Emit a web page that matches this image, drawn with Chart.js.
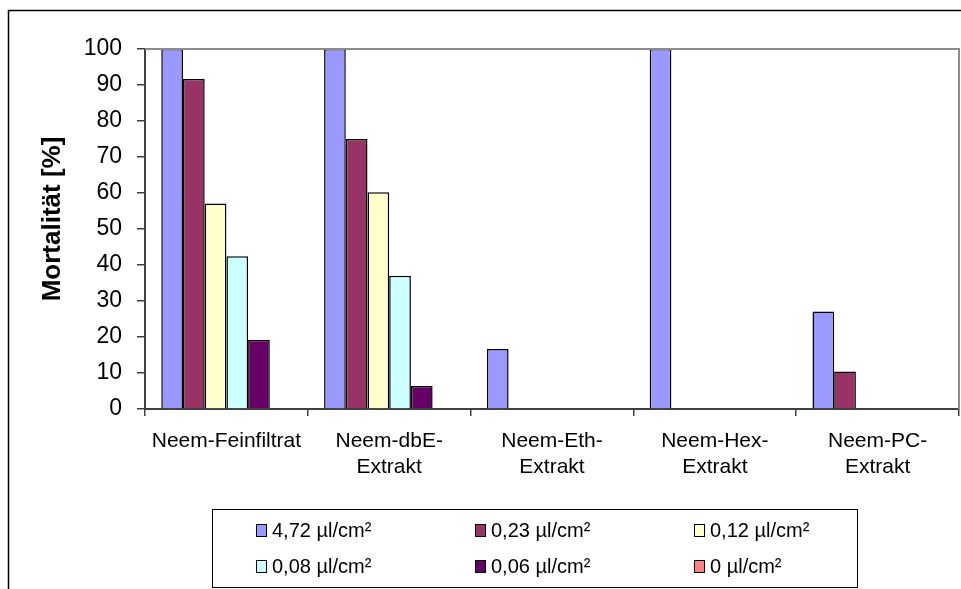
<!DOCTYPE html>
<html>
<head>
<meta charset="utf-8">
<script src="https://cdn.jsdelivr.net/npm/chart.js@4/dist/chart.umd.min.js"></script>
<style>
  html, body { margin: 0; padding: 0; background: #ffffff; }
  canvas { display: block; }
</style>
</head>
<body>
<canvas id="c" width="961" height="589"></canvas>
<script>
// ---- data ----
const categories = [
  ["Neem-Feinfiltrat"],
  ["Neem-dbE-", "Extrakt"],
  ["Neem-Eth-", "Extrakt"],
  ["Neem-Hex-", "Extrakt"],
  ["Neem-PC-", "Extrakt"]
];
const seriesLabels = ["4,72 µl/cm²", "0,23 µl/cm²", "0,12 µl/cm²", "0,08 µl/cm²", "0,06 µl/cm²", "0 µl/cm²"];
const dose472 = [100, 100, 16.7, 100, 27.1];
const dose023 = [91.7, 75, 0, 0, 10.4];
const dose012 = [57.1, 60.2, 0, 0, 0];
const dose008 = [42.4, 37, 0, 0, 0];
const dose006 = [19.2, 6.4, 0, 0, 0];
const dose000 = [0, 0, 0, 0, 0];
const yTicks = [0, 10, 20, 30, 40, 50, 60, 70, 80, 90, 100];
const yTitle = "Mortalität [%]";

// ---- styles ----
const colors = ["#9999FF", "#993366", "#FFFFCC", "#CCFFFF", "#660066", "#FF8080"];
const FONT = "'Liberation Sans', Arial, sans-serif";
const seriesValues = [dose472, dose023, dose012, dose008, dose006, dose000];

const datasets = seriesValues.map((vals, i) => ({
  label: seriesLabels[i],
  data: vals,
  backgroundColor: colors[i],
  borderColor: "#000000",
  borderWidth: 1.5,
  categoryPercentage: 0.8,
  barPercentage: 1.0
}));

const framePlugin = {
  id: "frame",
  beforeDraw(chart) {
    const ctx = chart.ctx;
    ctx.save();
    ctx.fillStyle = "#ffffff";
    ctx.fillRect(0, 0, chart.width, chart.height);
    ctx.restore();
  },
  afterDraw(chart) {
    const ctx = chart.ctx;
    const a = chart.chartArea;
    ctx.save();
    // plot area top/right border
    ctx.strokeStyle = "#8c8c8c";
    ctx.lineWidth = 2;
    ctx.beginPath();
    ctx.moveTo(a.left, a.top);
    ctx.lineTo(a.right, a.top);
    ctx.lineTo(a.right, a.bottom);
    ctx.stroke();
    // outer chart frame
    ctx.strokeStyle = "#000000";
    ctx.lineWidth = 1.5;
    ctx.strokeRect(8.5, 10.5, chart.width + 20, chart.height + 20);
    // y axis title
    ctx.save();
    ctx.translate(53, 219);
    ctx.rotate(-Math.PI / 2);
    ctx.font = "bold 26px " + FONT;
    ctx.fillStyle = "#000000";
    ctx.textAlign = "center";
    ctx.textBaseline = "middle";
    ctx.fillText(yTitle, 0, 0);
    ctx.restore();
    // legend box
    const bx = 212.5, by = 509.5, bw = 645, bh = 78;
    ctx.strokeStyle = "#000000";
    ctx.lineWidth = 1;
    ctx.strokeRect(bx, by, bw, bh);
    const colStep = 219, rowY = [530, 566];
    ctx.font = "20px " + FONT;
    ctx.textBaseline = "middle";
    ctx.textAlign = "left";
    chart.data.datasets.forEach((ds, i) => {
      const col = i % 3, row = Math.floor(i / 3);
      const sx = 256 + col * colStep;
      const sy = rowY[row];
      ctx.fillStyle = ds.backgroundColor;
      ctx.fillRect(sx, sy - 6, 11, 13);
      ctx.strokeStyle = "#000000";
      ctx.lineWidth = 1;
      ctx.strokeRect(sx + 0.5, sy - 5.5, 10, 12);
      ctx.fillStyle = "#000000";
      ctx.fillText(ds.label, sx + 16, sy + 1);
    });
    ctx.restore();
  }
};

new Chart(document.getElementById("c"), {
  type: "bar",
  data: { labels: categories, datasets: datasets },
  options: {
    responsive: false,
    animation: false,
    devicePixelRatio: 1,
    layout: { padding: { top: 49, right: 2, bottom: 0, left: 0 } },
    plugins: {
      legend: { display: false },
      tooltip: { enabled: false },
      title: { display: false }
    },
    scales: {
      x: {
        grid: { offset: true, drawOnChartArea: false, tickLength: 7, color: "#404040", lineWidth: 1.5 },
        border: { display: true, color: "#404040", width: 2 },
        ticks: {
          color: "#000000",
          font: { family: FONT, size: 21, lineHeight: 1.25 },
          padding: 12,
          maxRotation: 0,
          autoSkip: false
        },
        afterFit(scale) { scale.height = 180; }
      },
      y: {
        min: 0,
        max: 100,
        afterBuildTicks(scale) { scale.ticks = yTicks.map(v => ({ value: v })); },
        grid: { drawOnChartArea: false, tickLength: 8, color: "#404040", lineWidth: 1.5 },
        border: { display: true, color: "#404040", width: 2 },
        ticks: {
          color: "#000000",
          font: { family: FONT, size: 23 },
          padding: 15
        },
        title: { display: false },
        afterFit(scale) { scale.width = 145; }
      }
    }
  },
  plugins: [framePlugin]
});
</script>
</body>
</html>
